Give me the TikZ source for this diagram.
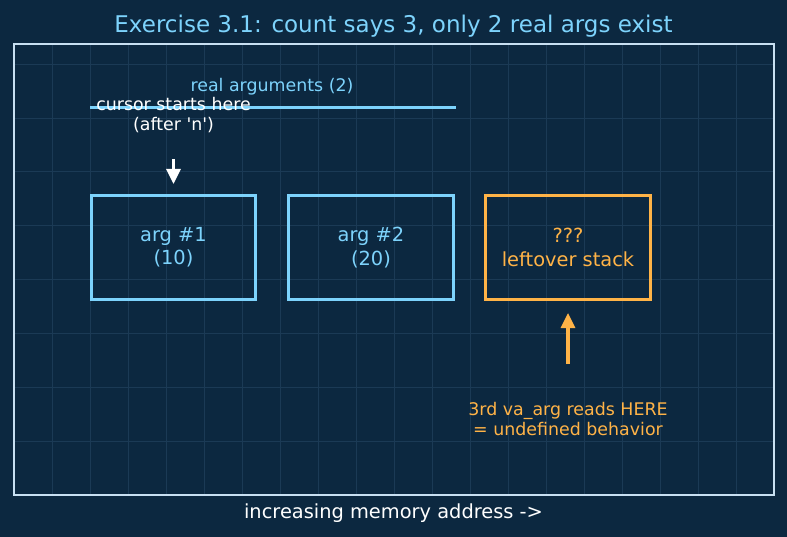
\documentclass[tikz,border=0pt]{standalone}
\usepackage{fontspec}
\setmainfont{DejaVu Sans}
\newfontfamily\plaindv{DejaVu Sans}
\usetikzlibrary{arrows.meta}
\definecolor{bg}{HTML}{0C2840}
\definecolor{gridc}{HTML}{1B3A55}
\definecolor{framec}{HTML}{C8E0F2}
\definecolor{lblue}{HTML}{7DD3FC}
\definecolor{orng}{HTML}{FFB347}
\tikzset{
  membox/.style={draw, line width=3.5pt, minimum height=104pt, align=center, font=\fontsize{19.4}{23.3}\selectfont},
  lbl/.style={align=center, inner sep=0pt, font=\fontsize{17.4}{20.9}\selectfont},
  ptr/.style={line width=3.2pt, -{Triangle[length=15pt,width=14pt]}}
}
\begin{document}
\begin{tikzpicture}[x=1pt,y=-1pt]
\fill[bg] (0,0) rectangle (787,537);
\useasboundingbox (0,0) rectangle (787,537);
% grid
\foreach \i in {1,...,19} {\draw[gridc, line width=0.9pt] (14+38*\i,44) -- (14+38*\i,495);}
\foreach \j in {1,...,8} {\draw[gridc, line width=0.9pt] (14,495-53.86*\j) -- (774,495-53.86*\j);}
\draw[framec, line width=2.2pt] (14,44) rectangle (774,495);
% title
\node[lblue, font=\fontsize{23}{27}\selectfont] (title) at (393.5,26) {Exercise 3.1: count says 3, only 2 real args exist};
% real args bracket
\coordinate (bl) at (90,108);
\coordinate (br) at (456,108);
\draw[lblue, line width=3pt] (bl) -- (br);
\node[lbl, lblue] (real) at (272,87) {real arguments (2)};
\node[lbl, white, font=\plaindv\fontsize{17.4}{20.9}\selectfont] (cursor) at (173.5,115) {cursor starts here\\(after 'n')};
% boxes
\node[membox, lblue, minimum width=164pt] (a1) at (173.5,247.5) {arg \#1\\(10)};
\node[membox, lblue, minimum width=165pt] (a2) at (371,247.5) {arg \#2\\(20)};
\node[membox, orng, minimum width=165pt] (a3) at (568,247.5) {???\\leftover stack};
% arrows
\coordinate (cstart) at (173.5,159);
\draw[ptr, white] (cstart) -- (a1.north |- 0,184);
\node[lbl, orng] (ub) at (568,419) {3rd va\_arg reads HERE\\= undefined behavior};
\coordinate (ustart) at (568,364);
\draw[ptr, orng] (ustart) -- (568,313);
% bottom label
\node[white, font=\fontsize{19.4}{23}\selectfont] (axis) at (393.5,513) {increasing memory address ->};
\end{tikzpicture}
\end{document}
